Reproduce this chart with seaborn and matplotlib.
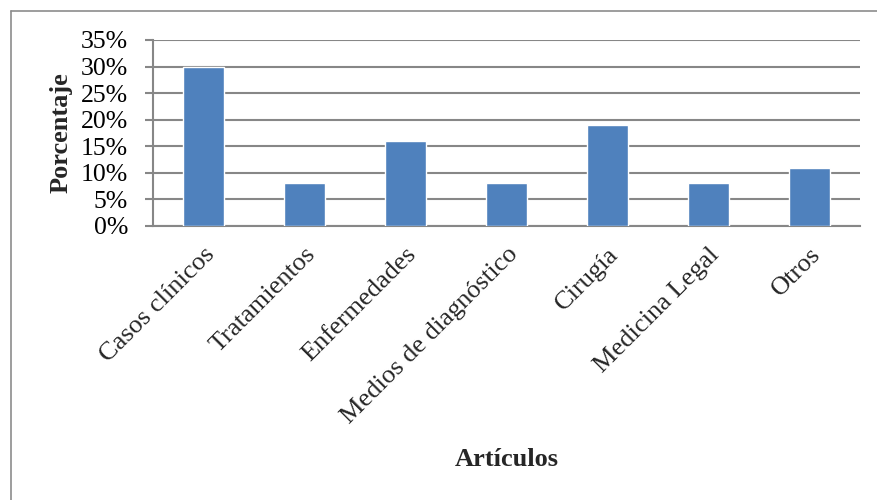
import matplotlib
matplotlib.use("Agg")
import matplotlib.pyplot as plt
from matplotlib.lines import Line2D
from matplotlib.ticker import FuncFormatter, MultipleLocator
import seaborn as sns
import pandas as pd

categorias = ["Casos clínicos", "Tratamientos", "Enfermedades",
              "Medios de diagnóstico", "Cirugía", "Medicina Legal", "Otros"]
porcentajes = [30, 8, 16, 8, 19, 8, 11]

sns.set_style("white")
plt.rcParams["font.family"] = ["Liberation Serif", "DejaVu Serif"]

df = pd.DataFrame({"Artículos": categorias, "Porcentaje": porcentajes})

fig = plt.figure(figsize=(8.77, 5.0), dpi=100)
ax = fig.add_axes([153 / 877, 1 - 226 / 500, (860 - 153) / 877, (226 - 40) / 500])

grid_c = "#878787"
sns.barplot(data=df, x="Artículos", y="Porcentaje", color="#4F81BD",
            width=0.4, saturation=1, ax=ax, zorder=3)

ax.set_ylim(0, 35)
ax.yaxis.set_major_locator(MultipleLocator(5))
ax.yaxis.set_major_formatter(FuncFormatter(lambda v, p: f"{v:.0f}%"))
ax.grid(axis="y", color=grid_c, linewidth=1.5, zorder=0)
ax.set_axisbelow(True)

for s in ["top", "right"]:
    ax.spines[s].set_visible(False)
for s in ["left", "bottom"]:
    ax.spines[s].set_color(grid_c)
    ax.spines[s].set_linewidth(1.5)

ax.tick_params(axis="y", which="major", left=True, length=6, width=1.5,
               color=grid_c, labelsize=18.5, pad=12, labelcolor="black")
ax.tick_params(axis="x", bottom=False, labelsize=19, pad=9)
for lbl in ax.get_xticklabels():
    lbl.set_rotation(45)
    lbl.set_ha("right")
    lbl.set_rotation_mode("anchor")

ax.set_ylabel("")
ax.set_xlabel("")
fig.text(61 / 877, 1 - 133 / 500, "Porcentaje", fontsize=19,
         fontweight="bold", ha="center", va="center", rotation=90)
fig.text(507 / 877, 1 - 460 / 500, "Artículos", fontsize=19,
         fontweight="bold", ha="center", va="center")

# outer frame (top and left edges)
fig.add_artist(Line2D([10.5 / 877, 1.0], [1 - 11 / 500, 1 - 11 / 500],
                      transform=fig.transFigure, color="#8c8c8c", linewidth=1.2))
fig.add_artist(Line2D([10.5 / 877, 10.5 / 877], [1 - 11 / 500, 0.0],
                      transform=fig.transFigure, color="#8c8c8c", linewidth=1.2))

fig.savefig("out.png", dpi=100, facecolor="white")
